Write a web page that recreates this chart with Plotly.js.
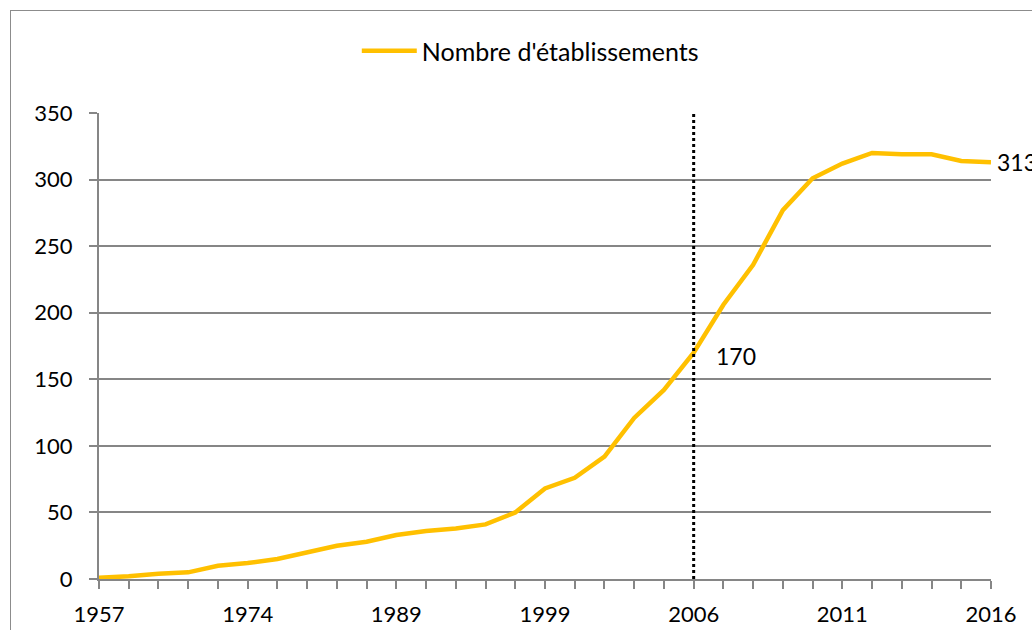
<!DOCTYPE html>
<html>
<head>
<meta charset="utf-8">
<script src="https://cdn.plot.ly/plotly-3.0.1.min.js"></script>
<style>
html,body{margin:0;padding:0;background:#fff;}
#wrap{position:relative;width:1032px;height:630px;overflow:hidden;}
#chart{position:absolute;left:0;top:0;width:1032px;height:630px;}
#frame{position:absolute;left:10px;top:10px;width:1060px;height:660px;border:1.5px solid #8c8c8c;pointer-events:none;}
</style>
</head>
<body>
<div id="wrap"><div id="chart"></div><div id="frame"></div></div>
<script>
// Categories (only every fifth one is labelled in the source chart)
const years = ['1957','1961','1964','1967','1971','1974','1977','1980','1983','1986',
               '1989','1991','1993','1995','1997','1999','2000','2002','2003','2004',
               '2006','2007','2008','2009','2010','2011','2012','2013','2014','2015','2016'];
const tickLabels = ['1957','1974','1989','1999','2006','2011','2016'];
const etablissements = [1,2,4,5,10,12,15,20,25,28,33,36,38,41,50,68,76,92,121,142,
                        170,206,236,277,301,312,320,319,319,314,313];
const seriesName = "Nombre d'établissements";
const markedYear = '2006';
const labelledYears = ['2006','2016'];

const FONT = 'Lato, "Open Sans", sans-serif';
const GRID = '#868686';

const trace = {
  type: 'scatter', mode: 'lines',
  x: years, y: etablissements, name: seriesName,
  line: {color: '#FFC000', width: 4.5},
  cliponaxis: false, showlegend: true
};

const annotations = labelledYears.map((yr, k) => {
  const i = years.indexOf(yr);
  return {
    x: i, y: etablissements[i], xref: 'x', yref: 'y',
    text: String(etablissements[i]), showarrow: false,
    xanchor: 'left', yanchor: 'middle',
    xshift: k === 0 ? 20 : 4, yshift: k === 0 ? -3 : 0,
    font: {family: FONT, size: 23, color: '#000'}
  };
});

const markIdx = years.indexOf(markedYear);

const layout = {
  width: 1032, height: 630,
  margin: {l: 99, r: 41, t: 113, b: 51},
  paper_bgcolor: '#fff', plot_bgcolor: '#fff',
  font: {family: FONT, size: 22, color: '#000'},
  showlegend: true,
  legend: {orientation: 'h', x: 0.289, xanchor: 'left', y: 1.133, yanchor: 'middle',
           itemwidth: 55,
           font: {family: FONT, size: 25, color: '#000'}, bgcolor: 'rgba(0,0,0,0)'},
  xaxis: {
    type: 'category', range: [0, years.length - 1],
    tickvals: years, ticktext: years.map(y => tickLabels.includes(y) ? y : ''),
    tickangle: 0,
    showline: true, linecolor: GRID, linewidth: 2,
    ticks: 'outside', ticklen: 8, tickwidth: 2, tickcolor: GRID,
    ticklabelstandoff: 7,
    showgrid: false, zeroline: false,
    tickfont: {family: FONT, size: 22, color: '#000'}
  },
  yaxis: {
    range: [0, 350], dtick: 50, tick0: 0,
    showline: true, linecolor: GRID, linewidth: 2,
    ticks: 'outside', ticklen: 8, tickwidth: 2, tickcolor: GRID,
    ticklabelstandoff: 12,
    showgrid: true, gridcolor: GRID, gridwidth: 2, zeroline: false,
    tickfont: {family: FONT, size: 22, color: '#000'}
  },
  shapes: [{
    type: 'line', xref: 'x', yref: 'paper',
    x0: markIdx, x1: markIdx, y0: 0, y1: 1,
    line: {color: '#000', width: 3, dash: 'dot'}
  }],
  annotations: annotations
};

Plotly.newPlot('chart', [trace], layout, {displayModeBar: false, staticPlot: true});
</script>
</body>
</html>
